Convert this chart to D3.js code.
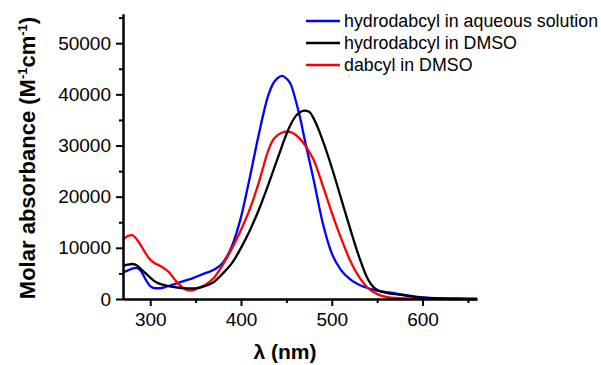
<!DOCTYPE html>
<html>
<head>
<meta charset="utf-8">
<script src="https://cdn.jsdelivr.net/npm/d3@7"></script>
<style>
  body { margin: 0; background: #fff; }
  svg { font-family: Arial, 'Liberation Sans', sans-serif; }
</style>
</head>
<body>
<div id="container"></div>
<script>
const width = 601;
const height = 365;
const plotLeft = 123, plotRight = 477, plotTop = 14, plotBottom = 299;

// wavelength grid (nm)
const wavelengths = [270, 275, 280, 285, 290, 295, 300, 305, 310, 320, 330, 340, 345, 350, 360, 370, 380, 390, 400, 410, 420, 430, 435, 440, 445, 450, 455, 460, 465, 470, 475, 480, 490, 500, 510, 520, 530, 540, 550, 560, 570, 580, 590, 600, 620, 640, 660];

const hydroAqueous = [5220, 5550, 5950, 6100, 5400, 3800, 2500, 2100, 2100, 2540, 3100, 3700, 3950, 4300, 5000, 5700, 7100, 10300, 16000, 24000, 32500, 39800, 42000, 43100, 43600, 43100, 41900, 39000, 35500, 31300, 27300, 23300, 14900, 8900, 5700, 3900, 2800, 2100, 1650, 1350, 1100, 800, 500, 300, 100, 50, 0];
const hydroDmso = [6450, 6700, 6840, 6600, 5800, 5000, 4200, 3450, 3000, 2540, 2250, 2090, 2050, 2090, 2500, 3300, 5000, 7000, 10000, 13500, 17600, 22300, 24800, 27300, 29800, 32200, 34200, 35700, 36500, 36800, 36600, 35300, 31000, 25700, 19800, 13900, 8300, 3800, 1750, 1200, 950, 700, 450, 250, 100, 50, 0];
const dabcylDmso = [11540, 12300, 12500, 11700, 10400, 8900, 7700, 7000, 6550, 5340, 3200, 1760, 1620, 1900, 2700, 4100, 6700, 9900, 13500, 17700, 23000, 29000, 31000, 32000, 32500, 32700, 32600, 32100, 31300, 30200, 28800, 27200, 22200, 16900, 12000, 7600, 4300, 2100, 950, 400, 200, 100, 60, 40, 20, 0, 0];

const seriesNames = ['hydrodabcyl in aqueous solution', 'hydrodabcyl in DMSO', 'dabcyl in DMSO'];
const seriesColors = ['#0000ff', '#000000', '#ff0000'];
const seriesValues = [hydroAqueous, hydroDmso, dabcylDmso];

const xMajor = [300, 400, 500, 600];
const xMinor = [350, 450, 550, 650];
const yMajor = [0, 10000, 20000, 30000, 40000, 50000];
const yMinor = [5000, 15000, 25000, 35000, 45000, 55000];

const svg = d3.select('#container')
    .append('svg')
    .attr('width', width)
    .attr('height', height);

const xScale = d3.scaleLinear().domain([270, 660]).range([plotLeft, plotRight]);
const yScale = d3.scaleLinear().domain([0, 55700]).range([plotBottom, plotTop]);

const line = d3.line()
    .x((d, i) => xScale(wavelengths[i]))
    .y(d => yScale(d))
    .curve(d3.curveMonotoneX);

// curves (black drawn on top)
[0, 2, 1].forEach(k => {
    svg.append('path')
        .attr('d', line(seriesValues[k]))
        .attr('fill', 'none')
        .attr('stroke', seriesColors[k])
        .attr('stroke-width', 2.3)
        .attr('stroke-linejoin', 'round');
});

function styleAxis(g) {
    g.select('.domain').attr('stroke-width', 2);
    g.selectAll('.tick line').attr('stroke-width', 2);
    g.selectAll('.tick text').attr('font-size', 19).attr('fill', '#000');
    g.attr('font-family', null);
}

// x axis
svg.append('g')
    .attr('transform', 'translate(0,' + plotBottom + ')')
    .call(d3.axisBottom(xScale).tickValues(xMinor).tickSize(4).tickFormat('').tickSizeOuter(0))
    .call(styleAxis);
svg.append('g')
    .attr('transform', 'translate(0,' + plotBottom + ')')
    .call(d3.axisBottom(xScale).tickValues(xMajor).tickSize(7).tickPadding(7).tickSizeOuter(0))
    .call(styleAxis);

// y axis
svg.append('g')
    .attr('transform', 'translate(' + plotLeft + ',0)')
    .call(d3.axisLeft(yScale).tickValues(yMinor).tickSize(4).tickFormat('').tickSizeOuter(0))
    .call(styleAxis);
svg.append('g')
    .attr('transform', 'translate(' + plotLeft + ',0)')
    .call(d3.axisLeft(yScale).tickValues(yMajor).tickSize(7).tickPadding(5).tickFormat(d3.format('d')).tickSizeOuter(0))
    .call(styleAxis);

// axis titles
svg.append('text')
    .attr('x', 285)
    .attr('y', 359)
    .attr('text-anchor', 'middle')
    .attr('font-size', 21)
    .attr('font-weight', 'bold')
    .text('λ (nm)');

const yTitle = svg.append('text')
    .attr('transform', 'translate(35,158) rotate(-90)')
    .attr('text-anchor', 'middle')
    .attr('font-size', 22)
    .attr('font-weight', 'bold');
yTitle.append('tspan').text('Molar absorbance (M');
yTitle.append('tspan').attr('dy', -8).attr('font-size', 13).text('-1');
yTitle.append('tspan').attr('dy', 8).text('cm');
yTitle.append('tspan').attr('dy', -8).attr('font-size', 13).text('-1');
yTitle.append('tspan').attr('dy', 8).text(')');

// legend
const legend = svg.append('g');
seriesNames.forEach((name, i) => {
    const y = 21 + i * 22;
    legend.append('line')
        .attr('x1', 306).attr('x2', 340)
        .attr('y1', y).attr('y2', y)
        .attr('stroke', seriesColors[i])
        .attr('stroke-width', 2.3);
    legend.append('text')
        .attr('x', 344)
        .attr('y', y + 6)
        .attr('font-size', 17.8)
        .text(name);
});
</script>
</body>
</html>
